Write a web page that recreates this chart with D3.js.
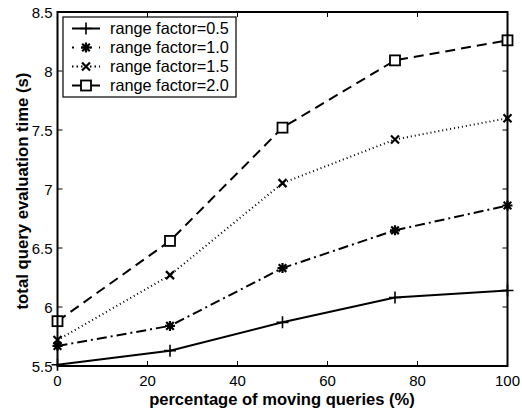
<!DOCTYPE html>
<html>
<head>
<meta charset="utf-8">
<script src="https://cdn.jsdelivr.net/npm/d3@7"></script>
<style>
  body { margin: 0; background: #fff; }
  text { font-family: Arial, "Liberation Sans", Helvetica, sans-serif; }
</style>
</head>
<body>
<script>
// data
var xs = [0, 25, 50, 75, 100];
var rf05 = [5.51, 5.63, 5.87, 6.08, 6.14];
var rf10 = [5.67, 5.84, 6.33, 6.65, 6.86];
var rf15 = [5.72, 6.27, 7.05, 7.42, 7.60];
var rf20 = [5.88, 6.56, 7.52, 8.09, 8.26];
var names = ["range factor=0.5", "range factor=1.0", "range factor=1.5", "range factor=2.0"];
var xTicks = [0, 20, 40, 60, 80, 100];
var yTicks = [5.5, 6, 6.5, 7, 7.5, 8, 8.5];

var W = 522, H = 409;
var pL = 57.5, pR = 507.5, pT = 12, pB = 366;

var svg = d3.select("body").append("svg")
    .attr("width", W).attr("height", H);

var x = d3.scaleLinear().domain([0, 100]).range([pL, pR]);
var y = d3.scaleLinear().domain([5.5, 8.5]).range([pB, pT]);

// shrink/grow a text's font until it is about as wide as in the picture
function fitWidth(t, w) {
  var fs = parseFloat(t.attr("font-size"));
  var len = t.node().getComputedTextLength();
  if (len > 0) t.attr("font-size", (fs * w / len).toFixed(2));
}

// ticks (inward, all four sides)
var tk = 5;
var g = svg.append("g").attr("stroke", "#000").attr("stroke-width", 1);
xTicks.forEach(function (t) {
  g.append("line").attr("x1", x(t)).attr("x2", x(t)).attr("y1", pB).attr("y2", pB - tk);
  g.append("line").attr("x1", x(t)).attr("x2", x(t)).attr("y1", pT).attr("y2", pT + tk);
});
yTicks.forEach(function (t) {
  g.append("line").attr("x1", pL).attr("x2", pL + tk).attr("y1", y(t)).attr("y2", y(t));
  g.append("line").attr("x1", pR).attr("x2", pR - tk).attr("y1", y(t)).attr("y2", y(t));
});

svg.selectAll(".xl").data(xTicks).enter().append("text")
    .attr("x", function (d) { return x(d); })
    .attr("y", pB + 20)
    .attr("text-anchor", "middle")
    .attr("font-size", 15)
    .text(function (d) { return d; });

svg.selectAll(".yl").data(yTicks).enter().append("text")
    .attr("x", pL - 5)
    .attr("y", function (d) { return y(d) + 5.5; })
    .attr("text-anchor", "end")
    .attr("font-size", 15)
    .text(function (d) { return d; });

var xlab = svg.append("text")
    .attr("x", 282).attr("y", 405)
    .attr("text-anchor", "middle")
    .attr("font-size", 16).attr("font-weight", "bold")
    .text("percentage of moving queries (%)");
fitWidth(xlab, 266);

var ylab = svg.append("text")
    .attr("transform", "translate(27.5,191) rotate(-90)")
    .attr("text-anchor", "middle")
    .attr("font-size", 15).attr("font-weight", "bold")
    .text("total query evaluation time (s)");
fitWidth(ylab, 237);

// series
var series = [
  { vals: rf05, dash: null, marker: "plus", ldash: null },
  { vals: rf10, dash: "10,4,2,4", marker: "star", ldash: "2,7" },
  { vals: rf15, dash: "1,3", marker: "x", ldash: "1.5,3" },
  { vals: rf20, dash: "10,6", marker: "square", ldash: null }
];

var line = d3.line()
    .x(function (d, i) { return x(xs[i]); })
    .y(function (d) { return y(d); });

function marker(sel, type, cx, cy) {
  var m = sel.append("g").attr("transform", "translate(" + cx + "," + cy + ")")
      .attr("stroke", "#000").attr("fill", "none").attr("stroke-width", 2);
  if (type === "plus") {
    m.append("path").attr("d", "M-6,0H6M0,-6V6").attr("stroke-width", 1.6);
  } else if (type === "star") {
    m.append("path").attr("d", "M-5,0H5M0,-5V5M-3.8,-3.8L3.8,3.8M-3.8,3.8L3.8,-3.8").attr("stroke-width", 2.2);
  } else if (type === "x") {
    m.append("path").attr("d", "M-4,-4L4,4M-4,4L4,-4").attr("stroke-width", 2.2);
  } else if (type === "square") {
    m.append("rect").attr("x", -5).attr("y", -5).attr("width", 10).attr("height", 10)
        .attr("fill", "#fff").attr("stroke-width", 1.8);
  }
}

var plot = svg.append("g");
series.forEach(function (s) {
  plot.append("path").datum(s.vals)
      .attr("d", line)
      .attr("fill", "none").attr("stroke", "#000").attr("stroke-width", 2)
      .attr("stroke-dasharray", s.dash);
  s.vals.forEach(function (v, i) { marker(plot, s.marker, x(xs[i]), y(v)); });
});

// axes box
svg.append("rect")
    .attr("x", pL).attr("y", pT)
    .attr("width", pR - pL).attr("height", pB - pT)
    .attr("fill", "none").attr("stroke", "#000").attr("stroke-width", 2);

// legend
var lg = svg.append("g").attr("transform", "translate(63,17)");
lg.append("rect").attr("x", 0).attr("y", 0).attr("width", 173).attr("height", 80)
    .attr("fill", "#fff").attr("stroke", "#000").attr("stroke-width", 1.2);
series.forEach(function (s, i) {
  var ly = 11.5 + i * 19;
  lg.append("line").attr("x1", 9).attr("x2", 37).attr("y1", ly).attr("y2", ly)
      .attr("stroke", "#000").attr("stroke-width", 2)
      .attr("stroke-dasharray", s.ldash);
  marker(lg, s.marker, 23, ly);
  var t = lg.append("text").attr("x", 47).attr("y", ly + 5.5)
      .attr("font-size", 16).text(names[i]);
  fitWidth(t, 119);
});
</script>
</body>
</html>
